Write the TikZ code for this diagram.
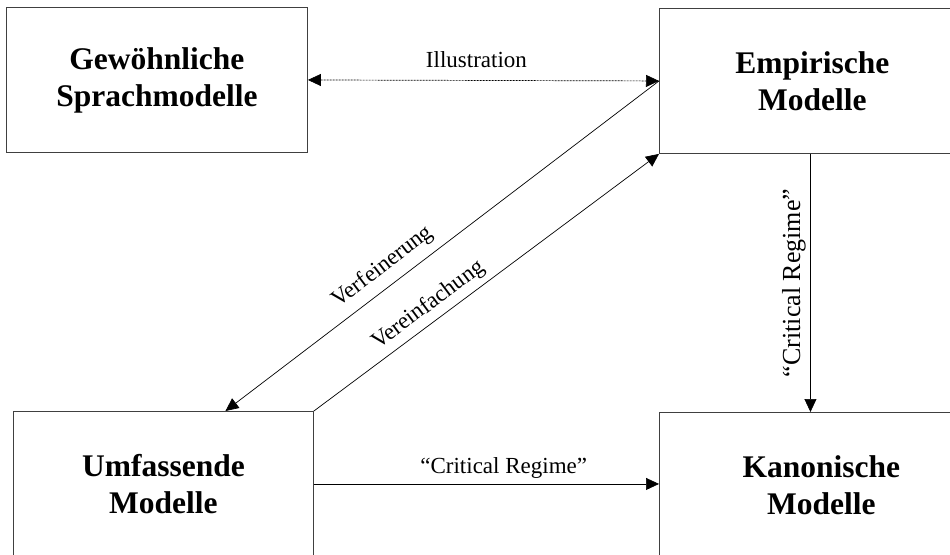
\documentclass[tikz,border=0pt]{standalone}
\usepackage{fontspec}
\setmainfont{Liberation Serif}
\usetikzlibrary{arrows.meta}

\begin{document}
\begin{tikzpicture}[x=1pt, y=-1pt,
   box/.style={draw=black!75, line width=0.9pt, minimum height=145pt,
     inner sep=0pt, anchor=north west, align=center,
     font=\fontsize{31.5}{37}\selectfont\bfseries},
   arr/.style={-{Triangle[length=13pt, width=12pt]}, line width=0.7pt},
   lbl/.style={font=\fontsize{23}{27}\selectfont}]
   \useasboundingbox (0,0) rectangle (950,554);
   % boxes
   \node[box, minimum width=301pt] (sprach) at (6,7) {Gewöhnliche\\Sprachmodelle};
   \node[box, minimum width=306pt] (emp) at (659,8) {Empirische\\Modelle};
   \node[box, minimum width=300pt] (umf) at (13,411) {Umfassende\\Modelle};
   \node[box, minimum width=324pt] (kan) at (659,412) {Kanonische\\Modelle};
   \coordinate (vf) at ([xshift=62pt]umf.north);
   % connectors
   \draw[arr, dash pattern=on 2pt off 1pt, {Triangle[length=13pt, width=12pt]}-{Triangle[length=13pt, width=12pt]}]
     (sprach.east) -- node[lbl, above=9pt, pos=0.48] {Illustration} (emp.west);
   \draw[arr] (emp.west) -- node[lbl, sloped, above=5pt, pos=0.61] {Verfeinerung} (vf);
   \draw[arr] (umf.north east) -- node[lbl, sloped, above=2pt, pos=0.36] {Vereinfachung} (emp.south west);
   \draw[arr] ([xshift=-2pt]emp.south) -- node[lbl, font=\fontsize{26}{30}\selectfont, rotate=90, above=1pt] {“Critical Regime”}
     ([xshift=-2pt]emp.south |- kan.north);
   \draw[arr] (umf.east) -- node[lbl, above=2pt, pos=0.55] {“Critical Regime”} (umf.east -| kan.west);
\end{tikzpicture}
\end{document}
